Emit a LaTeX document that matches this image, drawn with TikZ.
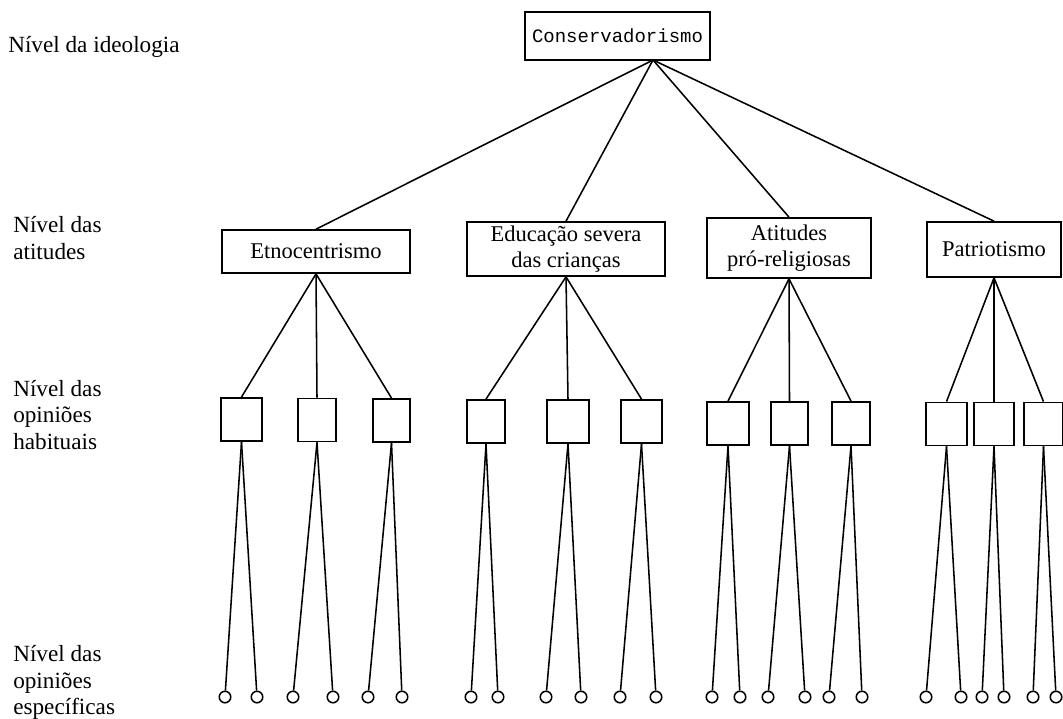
\documentclass[tikz,border=0pt]{standalone}
\usepackage{fontspec}
\setmainfont{Liberation Serif}
\newfontfamily\maquina{Liberation Mono}
\tikzset{
	nivel/.style={anchor=base west, align=left, inner sep=0pt, font=\fontsize{16.5}{18.5}\selectfont},
	caixa/.style 2 args={draw, line width=1.2pt, inner sep=0pt, align=center, minimum width=#1*0.025cm, minimum height=#2*0.025cm, font=\fontsize{16}{18}\selectfont},
	habitual/.style={draw, line width=1.3pt, inner sep=0pt, minimum width=#1*0.025cm, minimum height=43*0.025cm},
	bolinha/.style={draw, circle, line width=1.1pt, inner sep=0pt, minimum size=11.5*0.025cm},
	ramo/.style={line width=1.1pt}
}

\begin{document}
\begin{tikzpicture}[x=0.025cm, y=-0.025cm]
	\useasboundingbox (0,0) rectangle (1063,718);

	% base = baseline of the last line
	\node[nivel] (n1) at (8,52)  {N\'ivel da ideologia};
	\node[nivel] (n2) at (13,259) {N\'ivel das\\atitudes};
	\node[nivel] (n3) at (13,449) {N\'ivel das\\opini\~oes\\habituais};
	\node[nivel] (n4) at (13,714) {N\'ivel das\\opini\~oes\\espec\'ificas};

	\node[caixa={185}{48}, font=\maquina\fontsize{13.5}{15}\selectfont] (cons) at (617.5,36) {Conservadorismo};
	\coordinate (apex) at (653,60);

	\node[caixa={188}{43}] (a1) at (316,251.5) {Etnocentrismo};
	\node[caixa={198}{54}] (a2) at (566,249) {Educa\c{c}\~ao severa\\das crian\c{c}as};
	\node[caixa={164}{60}] (a3) at (789,248) {Atitudes\\pr\'o-religiosas};
	\node[caixa={134}{55}] (a4) at (994,249.5) {Patriotismo};

	\foreach \a in {1,...,4}
		\draw[ramo] (apex) -- (a\a.north);

	\foreach \i/\cx/\w/\cy/\a in {1/241.5/41/419.5/1, 2/317/38/420/1, 3/391.5/37/420.5/1,
		4/486/38/421.5/2, 5/568/42/421.5/2, 6/641.5/41/421.5/2,
		7/728/42/423.5/3, 8/789.5/37/423.5/3, 9/851/38/423.5/3,
		10/946.5/41/424/4, 11/994/40/424/4, 12/1043.5/39/424/4}{
		\node[habitual=\w] (h\i) at (\cx,\cy) {};
		\draw[ramo] (a\a.south) -- (h\i.north);
	}

	\foreach \i/\l/\r in {1/225/257, 2/293/333, 3/368/402, 4/471/498, 5/546/581, 6/620/656,
		7/712/740, 8/768/805, 9/829/862, 10/926/961, 11/982/1004, 12/1033/1056}{
		\node[bolinha] (e\i a) at (\l,697) {};
		\node[bolinha] (e\i b) at (\r,697) {};
		\draw[ramo] (h\i.south) -- (e\i a);
		\draw[ramo] (h\i.south) -- (e\i b);
	}
\end{tikzpicture}
\end{document}
